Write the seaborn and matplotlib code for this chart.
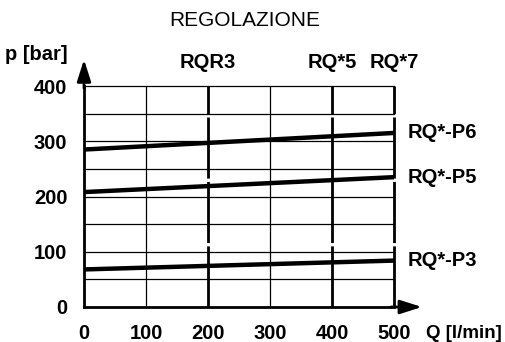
import matplotlib
matplotlib.use("Agg")
import matplotlib.pyplot as plt
import pandas as pd
import seaborn as sns

# Datos
flow = [0, 500]
p3 = [68, 84]
p5 = [208, 235]
p6 = [285, 315]
curve_names = ["RQ*-P3", "RQ*-P5", "RQ*-P6"]
x_ticks = [0, 100, 200, 300, 400, 500]
y_ticks = [0, 100, 200, 300, 400]
top_labels = ["RQR3", "RQ*5", "RQ*7"]
top_pos = [200, 400, 500]

sns.set_theme(style="white")
plt.rcParams["font.family"] = ["Liberation Sans", "DejaVu Sans"]
plt.rcParams["text.color"] = "black"
plt.rcParams["xtick.color"] = "black"
plt.rcParams["ytick.color"] = "black"

df = pd.DataFrame({
    "Q": flow * 3,
    "p": p3 + p5 + p6,
    "curve": [n for n in curve_names for _ in flow],
})

fig = plt.figure(figsize=(5.05, 3.42), dpi=100)
ax = fig.add_axes([84 / 505, 35 / 342, 310 / 505, 221 / 342])

# Rejilla
for y in range(50, 401, 50):
    ax.axhline(y, color="black", lw=0.9, clip_on=False, zorder=1)
for x in [100, 300]:
    ax.axvline(x, color="black", lw=0.9, clip_on=False, zorder=1)
for x in top_pos:
    ax.axvline(x, color="black", lw=2, ls=(0, (22, 1.2)), clip_on=False, zorder=1)

sns.lineplot(data=df, x="Q", y="p", units="curve", estimator=None,
             color="black", lw=3.2, ax=ax, legend=False, zorder=3)

ax.set_xlim(0, 500)
ax.set_ylim(0, 400)
for s in ["top", "right"]:
    ax.spines[s].set_visible(False)
for s in ["left", "bottom"]:
    ax.spines[s].set_linewidth(2)
    ax.spines[s].set_color("black")

ax.set_xticks(x_ticks)
ax.set_yticks(y_ticks)
ax.tick_params(length=0, pad=12)
for lbl in ax.get_xticklabels() + ax.get_yticklabels():
    lbl.set_fontsize(14.5)
    lbl.set_fontweight("bold")
ax.set_xlabel("")
ax.set_ylabel("")

# Flechas de los ejes
ax.annotate("", xy=(0, 1.12), xycoords="axes fraction", xytext=(0, 0.99),
            arrowprops=dict(arrowstyle="-|>,head_length=1.1,head_width=0.35",
                            color="black", lw=2, shrinkA=0, shrinkB=0))
ax.annotate("", xy=(1.09, 0), xycoords="axes fraction", xytext=(0.99, 0),
            arrowprops=dict(arrowstyle="-|>,head_length=1.1,head_width=0.35",
                            color="black", lw=2, shrinkA=0, shrinkB=0))

# Textos
fig.text(245 / 505, 1 - 20 / 342, "REGOLAZIONE", ha="center", va="center", fontsize=15)
fig.text(68 / 505, 1 - 55 / 342, "p [bar]", ha="right", va="center",
         fontsize=14.5, fontweight="bold")
fig.text(502 / 505, 1 - 333 / 342, "Q [l/min]", ha="right", va="center",
         fontsize=13.5, fontweight="bold")
for lab, xp in zip(top_labels, top_pos):
    ax.text(xp, 1.105, lab, transform=ax.get_xaxis_transform(), ha="center",
            va="center", fontsize=14.5, fontweight="bold")
for name, vals in zip(curve_names, [p3, p5, p6]):
    ax.annotate(name, xy=(flow[-1], vals[-1]), xytext=(10, 0),
                textcoords="offset points", ha="left", va="center",
                fontsize=14.5, fontweight="bold", annotation_clip=False)

fig.savefig("out.png", dpi=100)
